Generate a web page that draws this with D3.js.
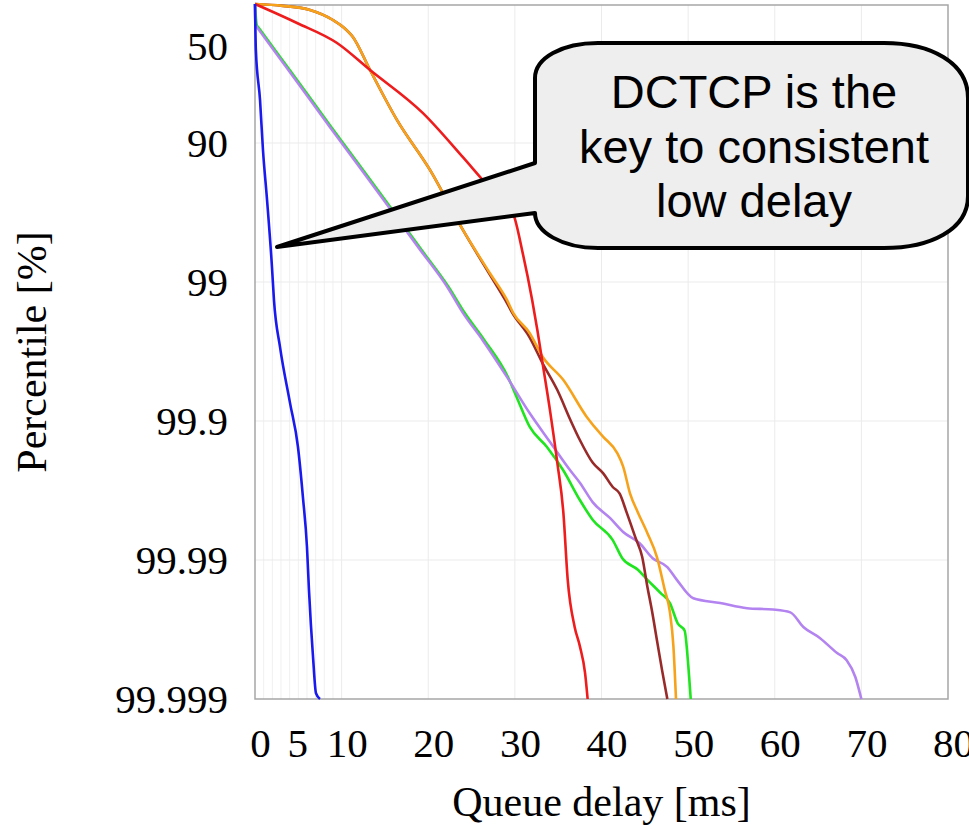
<!DOCTYPE html>
<meta charset="utf-8">
<script src="https://d3js.org/d3.v7.min.js"></script>
<style>
  body { margin: 0; background: #fff; }
  svg { display: block; }
</style>
<div id="chart"></div>
<script>
// Tick values
const xTicks = [0, 5, 10, 20, 30, 40, 50, 60, 70, 80];
const xMinor = [1, 2, 3, 4, 5, 6, 7, 8, 9];
const yTicks = [50, 90, 99, 99.9, 99.99, 99.999];

// Series: queue delay [ms] and percentile [%]
const blueDelay = [0, 0.1, 0.58, 0.92, 1.39, 1.96, 2.19, 2.89, 4.04, 4.96, 5.54, 6.0, 6.23, 6.70, 7.04, 7.5];
const bluePct = [0, 53.3, 79.6, 91.1, 96.1, 98.72, 99.26, 99.66, 99.865, 99.935, 99.972, 99.9876, 99.9939, 99.998, 99.9989, 99.999];

const redDelay = [0, 4.85, 9.47, 13.28, 19.39, 24.0, 26.3, 29.8, 30.9, 32.0, 32.6, 33.2, 34.1, 34.9, 35.6, 36.1, 36.9, 37.5, 38.1, 38.4];
const redPct = [0, 27, 47.6, 66.5, 83.6, 92.1, 94.6, 96.9, 98.38, 99.26, 99.55, 99.74, 99.886, 99.95, 99.9782, 99.9928, 99.9967, 99.9976, 99.99846, 99.999];

const orangeDelay = [0, 3.2, 6.35, 9.0, 10.16, 11.3, 13.28, 16.4, 20.2, 24.0, 27.1, 29.1, 29.8, 31.7, 33.2, 35.6, 38.3, 39.8, 40.2, 41.8, 42.5, 43.3, 44.2, 45.3, 46.4, 47.3, 47.9, 48.3, 48.6];
const orangePct = [0, 3, 9.4, 23.3, 31.6, 42.1, 66.5, 85.4, 93.6, 97.63, 98.84, 99.26, 99.4, 99.57, 99.71, 99.803, 99.893, 99.918, 99.923, 99.941, 99.953, 99.97, 99.978, 99.9844, 99.9895, 99.9939, 99.9958, 99.9976, 99.999];

const brownDelay = [0, 3.2, 6.35, 9.0, 10.16, 11.3, 13.28, 16.4, 20.2, 24.0, 27.0, 28.9, 29.7, 31.7, 33.2, 34.9, 36.4, 37.5, 39.0, 40.2, 41.3, 42.1, 42.9, 43.9, 44.7, 45.3, 45.8, 46.4, 47.0, 47.6];
const brownPct = [0, 3, 9.4, 23.3, 31.6, 42.1, 66.5, 85.4, 93.6, 97.63, 98.84, 99.26, 99.4, 99.6, 99.74, 99.833, 99.898, 99.927, 99.95, 99.958, 99.9665, 99.97, 99.978, 99.9854, 99.9895, 99.9936, 99.9956, 99.99735, 99.9984, 99.999];

const purpleDelay = [0, 0.05, 0.3, 4.04, 8.66, 14.43, 19.05, 22.2, 24.0, 26.3, 29.1, 31.7, 34.1, 36.4, 37.5, 39.0, 41.0, 42.5, 44.4, 45.9, 47.6, 48.7, 50.6, 53.7, 56.8, 59.8, 61.8, 63.3, 65.2, 67.2, 68.3, 69.3, 70.0];
const purplePct = [0, 29.4, 32.8, 67.7, 87.0, 95.77, 98.29, 99.08, 99.4, 99.62, 99.793, 99.886, 99.93, 99.956, 99.964, 99.974, 99.98, 99.9841, 99.9868, 99.9897, 99.9911, 99.9928, 99.9947, 99.9951, 99.9955, 99.9956, 99.9958, 99.9967, 99.99725, 99.99786, 99.9981, 99.99856, 99.999];

const greenDelay = [0, 0.2, 0.45, 4.2, 8.82, 14.6, 19.2, 22.35, 24.2, 26.5, 29.2, 30.2, 31.7, 33.7, 35.6, 37.5, 39.0, 41.3, 42.4, 44.2, 45.3, 46.8, 47.9, 48.8, 49.6, 50.0, 50.3];
const greenPct = [0, 29.4, 32.8, 67.7, 87.0, 95.77, 98.29, 99.08, 99.4, 99.62, 99.793, 99.851, 99.909, 99.935, 99.956, 99.973, 99.9806, 99.9861, 99.9897, 99.9915, 99.9928, 99.9942, 99.9951, 99.9965, 99.9969, 99.9982, 99.999];

const calloutLines = ["DCTCP is the", "key to consistent", "low delay"];

// drawing order (bottom first)
const series = [
  {delay: greenDelay, pct: greenPct, color: "#1ee51e"},
  {delay: purpleDelay, pct: purplePct, color: "#b383f0"},
  {delay: brownDelay, pct: brownPct, color: "#992a2a"},
  {delay: orangeDelay, pct: orangePct, color: "#f7a21b"},
  {delay: redDelay, pct: redPct, color: "#ee1c1c"},
  {delay: blueDelay, pct: bluePct, color: "#1a1aee"}
];

const W = 969, H = 830;
const plot = {left: 255, right: 948, top: 5, bottom: 699};

const svg = d3.select("#chart").append("svg")
  .attr("width", W).attr("height", H);

const x = d3.scaleLinear().domain([0, 80]).range([plot.left, plot.right]);
// log scale on the tail (100 - percentile)
const y = d3.scaleLog().domain([100, 0.001]).range([4, plot.bottom]);
const yp = p => y(100 - p);

// grid
const grid = svg.append("g");
grid.selectAll(".minor").data(xMinor).join("line")
  .attr("x1", d => x(d)).attr("x2", d => x(d))
  .attr("y1", plot.top).attr("y2", plot.bottom)
  .attr("stroke", "#f0f0f0").attr("stroke-width", 1);
grid.selectAll(".major").data(d3.range(10, 80, 10)).join("line")
  .attr("x1", d => x(d)).attr("x2", d => x(d))
  .attr("y1", plot.top).attr("y2", plot.bottom)
  .attr("stroke", "#ebebeb").attr("stroke-width", 1);
grid.selectAll(".hgrid").data(yTicks.slice(1, -1)).join("line")
  .attr("x1", plot.left).attr("x2", plot.right)
  .attr("y1", d => yp(d)).attr("y2", d => yp(d))
  .attr("stroke", "#ebebeb").attr("stroke-width", 1);

// frame
svg.append("rect")
  .attr("x", plot.left).attr("y", plot.top)
  .attr("width", plot.right - plot.left).attr("height", plot.bottom - plot.top)
  .attr("fill", "none").attr("stroke", "#a6a6a6").attr("stroke-width", 1.5);

// lines
const line = d3.line()
  .x(d => x(d[0]))
  .y(d => yp(d[1]))
  .curve(d3.curveMonotoneX);

svg.append("g").selectAll("path").data(series).join("path")
  .attr("d", s => line(s.delay.map((v, i) => [v, s.pct[i]])))
  .attr("fill", "none")
  .attr("stroke", s => s.color)
  .attr("stroke-width", 2.6)
  .attr("stroke-linejoin", "round");

// axes
const serif = "'Liberation Serif', 'Times New Roman', serif";

const xAxis = svg.append("g")
  .attr("transform", `translate(0,${plot.bottom})`)
  .call(d3.axisBottom(x).tickValues(xTicks).tickSize(0).tickPadding(29));
xAxis.select(".domain").remove();
xAxis.selectAll("text")
  .attr("dx", d => d === 5 ? -1 : 5)
  .style("font-family", serif).style("font-size", "41px").attr("fill", "#000");

const yAxis = svg.append("g")
  .attr("transform", `translate(${plot.left},0)`)
  .call(d3.axisLeft(y).tickValues(yTicks.map(p => 100 - p)).tickSize(0).tickPadding(27)
    .tickFormat((t, i) => String(yTicks[i])));
yAxis.select(".domain").remove();
yAxis.selectAll("text")
  .attr("dy", "0.34em")
  .style("font-family", serif).style("font-size", "41px").attr("fill", "#000");

svg.append("text")
  .attr("x", (plot.left + plot.right) / 2).attr("y", 816)
  .attr("text-anchor", "middle")
  .style("font-family", serif).style("font-size", "42px")
  .text("Queue delay [ms]");

svg.append("text")
  .attr("transform", `translate(46,${(plot.top + plot.bottom) / 2}) rotate(-90)`)
  .attr("text-anchor", "middle")
  .style("font-family", serif).style("font-size", "42px")
  .text("Percentile [%]");

// callout bubble
const bubble = d3.path();
bubble.moveTo(598, 43);
bubble.lineTo(884, 43);
bubble.bezierCurveTo(930, 43, 968, 62, 968, 98);
bubble.lineTo(968, 196);
bubble.bezierCurveTo(968, 230, 930, 248, 884, 248);
bubble.lineTo(598, 248);
bubble.bezierCurveTo(562, 248, 535, 232, 535, 213);
bubble.lineTo(277, 247);
bubble.lineTo(535, 163);
bubble.lineTo(535, 78);
bubble.bezierCurveTo(535, 58, 562, 43, 598, 43);
bubble.closePath();

svg.append("path")
  .attr("d", bubble.toString())
  .attr("fill", "#eeeeee")
  .attr("stroke", "#000")
  .attr("stroke-width", 4)
  .attr("stroke-linejoin", "round");

svg.append("g").selectAll("text").data(calloutLines).join("text")
  .attr("x", 754)
  .attr("y", (d, i) => 108 + i * 54.5)
  .attr("text-anchor", "middle")
  .style("font-family", "'Liberation Sans', Arial, sans-serif")
  .style("font-size", "47px")
  .attr("fill", "#000")
  .text(d => d);
</script>
